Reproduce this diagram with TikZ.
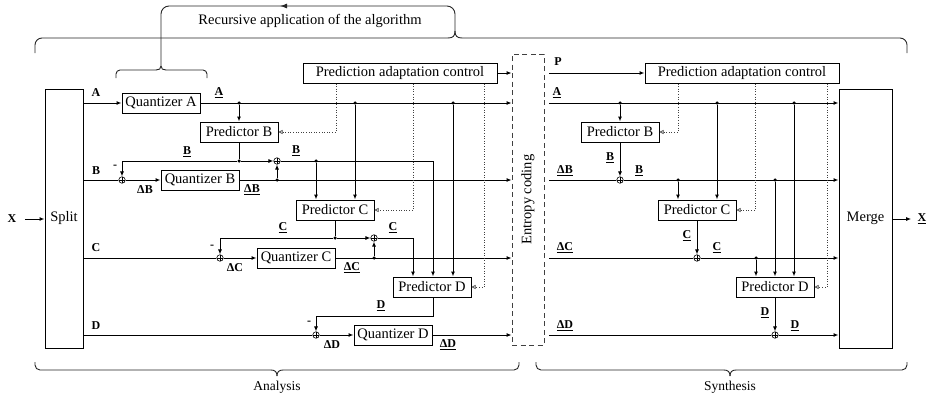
\documentclass[tikz,border=0pt]{standalone}
\usepackage{fontspec}
\setmainfont{Liberation Serif}
\usetikzlibrary{arrows.meta,calc}
\begin{document}
\begin{tikzpicture}[x=1pt,y=-1pt,line width=1pt,
  box/.style={draw, fill=white, minimum width=78pt, minimum height=20pt, inner sep=0pt, font=\fontsize{14.5}{16}\selectfont},
  lbl/.style={font=\fontsize{12}{13}\selectfont\bfseries, inner sep=0pt},
  txt/.style={font=\fontsize{14.5}{16}\selectfont, inner sep=0pt},
  arr/.style={-{Latex[length=5pt,width=4pt]}},
  ctl/.style={dotted, line width=0.6pt, black!75, -{Triangle[open,length=4pt,width=4pt]}},
  dot/.style={circle, fill, inner sep=0pt, minimum size=3.5pt},
  sumn/.style={circle, draw, fill=white, line width=0.6pt, inner sep=0pt, minimum size=6.5pt,
    path picture={\draw[line width=0.6pt] (path picture bounding box.north) -- (path picture bounding box.south)
      (path picture bounding box.west) -- (path picture bounding box.east);}},
  brc/.style={line width=0.9pt, black!85}]
\useasboundingbox (0,0) rectangle (933,399);

% ---------- boxes ----------
\node[box, minimum width=38pt, minimum height=259pt] (split) at (64,218.5) {Split};
\node[box] (qa) at (161,103) {Quantizer A};
\node[box] (pbL) at (239,132) {Predictor B};
\node[box] (qb) at (200,180) {Quantizer B};
\node[box] (pcL) at (335,210) {Predictor C};
\node[box] (qc) at (296,258) {Quantizer C};
\node[box] (pdL) at (432,287) {Predictor D};
\node[box] (qd) at (393,335) {Quantizer D};
\node[box, minimum width=194pt] (pacL) at (400,73) {Prediction adaptation control};
\node[draw, black!75, line width=0.8pt, dash pattern=on 5pt off 3.5pt, minimum width=32pt, minimum height=291pt, inner sep=0pt] (ent) at (528,199.5) {};
\node[txt, rotate=90] (entl) at (ent.center) {Entropy coding};

\node[box, minimum width=194pt] (pacR) at (742,73) {Prediction adaptation control};
\node[box] (pbR) at (620,132) {Predictor B};
\node[box] (pcR) at (697,210) {Predictor C};
\node[box] (pdR) at (775,287) {Predictor D};
\node[box, minimum width=53pt, minimum height=259pt] (merge) at (865.5,218.5) {Merge};

% ---------- sums ----------
\node[sumn] (sB1) at (122,180) {};
\node[sumn] (sB2) at (277,161) {};
\node[sumn] (sC1) at (220,258) {};
\node[sumn] (sC2) at (374,238) {};
\node[sumn] (sD) at (316,335) {};
\node[sumn] (sRB) at (620,180) {};
\node[sumn] (sRC) at (697,258) {};
\node[sumn] (sRD) at (775,335) {};

% ---------- dots ----------
\node[dot] (dA1) at (239,103) {};
\node[dot] (dA2) at (355,103) {};
\node[dot] (dA3) at (453,103) {};
\node[dot] (dBp) at (239,161) {};
\node[dot] (dBq) at (277,180) {};
\node[dot] (dBr) at (316,161) {};
\node[dot] (dCp) at (335,238) {};
\node[dot] (dCq) at (374,258) {};
\node[dot] (rA1) at (620,103) {};
\node[dot] (rA2) at (717,103) {};
\node[dot] (rA3) at (794,103) {};
\node[dot] (rB1) at (678,180) {};
\node[dot] (rB2) at (775,180) {};
\node[dot] (rC1) at (756,258) {};

\coordinate (rs) at (549,0);
\coordinate (dfb) at (433,316);
\coordinate (k1) at (336,0);
\coordinate (k2) at (413,0);
\coordinate (k3) at (484,0);
\coordinate (m1) at (678,0);
\coordinate (m2) at (755,0);
\coordinate (m3) at (827,0);

% ---------- X in / out ----------
\node[lbl] (xin) at (12,219) {X};
\draw[arr] ([xshift=8pt]xin.east) -- (split.west |- xin);
\node[lbl] (xout) at (922,219) {\underline{X}};
\draw[arr] (merge.east |- xout) -- ([xshift=-6pt]xout.west);

% ---------- analysis: A ----------
\draw[arr] (split.east |- qa) -- (qa.west);
\draw[arr] (qa.east) -- (qa -| ent.west);
\draw[arr] (dA1) -- (pbL.north);
\draw[arr] (dA2) -- (dA2 |- pcL.north);
\draw[arr] (dA3) -- (dA3 |- pdL.north);

% ---------- analysis: B ----------
\draw (split.east |- sB1) -- (sB1);
\draw[arr] (sB1) -- (qb.west);
\draw[arr] (qb.east) -- (qb -| ent.west);
\draw[arr] (dBq) -- (sB2);
\draw (pbL.south) -- (dBp);
\draw[arr] (dBp) -- (sB2);
\draw[arr] (dBp) -- (sB1 |- dBp) -- (sB1);
\draw[arr] (sB2) -| ([xshift=1pt]pdL.north);
\draw[arr] (dBr) -- (dBr |- pcL.north);

% ---------- analysis: C ----------
\draw (split.east |- sC1) -- (sC1);
\draw[arr] (sC1) -- (qc.west);
\draw[arr] (qc.east) -- (qc -| ent.west);
\draw[arr] (dCq) -- (sC2);
\draw (pcL.south) -- (dCp);
\draw[arr] (dCp) -- (sC2);
\draw[arr] (dCp) -- (sC1 |- dCp) -- (sC1);
\draw[arr] (sC2) -| ([xshift=-19pt]pdL.north);

% ---------- analysis: D ----------
\draw (split.east |- sD) -- (sD);
\draw[arr] (sD) -- (qd.west);
\draw[arr] (qd.east) -- (qd -| ent.west);
\draw[arr] (pdL.south -| dfb) -- (dfb) -| (sD);

% ---------- analysis: control ----------
\draw[arr] (pacL.east) -- (pacL -| ent.west);
\draw[ctl] (pacL.south -| k1) |- (pbL.east);
\draw[ctl] (pacL.south -| k2) |- (pcL.east);
\draw[ctl] (pacL.south -| k3) |- (pdL.east);

% ---------- synthesis ----------
\draw[arr] (rs |- pacR) -- (pacR.west);
\draw[arr] (rs |- qa) -- (merge.west |- qa);
\draw[arr] (rA1) -- (pbR.north);
\draw[arr] (rA2) -- (rA2 |- pcR.north);
\draw[arr] (rA3) -- (rA3 |- pdR.north);

\draw (rs |- sRB) -- (sRB);
\draw[arr] (sRB) -- (merge.west |- sRB);
\draw[arr] (pbR.south) -- (sRB);
\draw[arr] (rB1) -- (rB1 |- pcR.north);
\draw[arr] (rB2) -- (pdR.north);

\draw (rs |- sRC) -- (sRC);
\draw[arr] (sRC) -- (merge.west |- sRC);
\draw[arr] (pcR.south) -- (sRC);
\draw[arr] (rC1) -- (rC1 |- pdR.north);

\draw (rs |- sRD) -- (sRD);
\draw[arr] (sRD) -- (merge.west |- sRD);
\draw[arr] (pdR.south) -- (sRD);

\draw[ctl] (pacR.south -| m1) |- (pbR.east);
\draw[ctl] (pacR.south -| m2) |- (pcR.east);
\draw[ctl] (pacR.south -| m3) |- (pdR.east);

% ---------- labels ----------
\node[lbl] at (96,93) {A};
\node[lbl] at (219,93) {\underline{A}};
\node[lbl] at (96,171) {B};
\node[lbl] at (115,167) {-};
\node[lbl] at (187,152) {\underline{B}};
\node[lbl] at (145,190) {ΔB};
\node[lbl] at (252,190) {\underline{ΔB}};
\node[lbl] at (296,151) {\underline{B}};
\node[lbl] at (96,248) {C};
\node[lbl] at (212,247) {-};
\node[lbl] at (283,228) {\underline{C}};
\node[lbl] at (235,268) {ΔC};
\node[lbl] at (352,268) {\underline{ΔC}};
\node[lbl] at (393,228) {\underline{C}};
\node[lbl] at (96,326) {D};
\node[lbl] at (309,323) {-};
\node[lbl] at (381,306) {\underline{D}};
\node[lbl] at (332,345) {ΔD};
\node[lbl] at (448,345) {\underline{ΔD}};

\node[lbl] at (558,62) {P};
\node[lbl] at (557,93) {\underline{A}};
\node[lbl] at (565,171) {\underline{ΔB}};
\node[lbl] at (610,158) {\underline{B}};
\node[lbl] at (639,171) {\underline{B}};
\node[lbl] at (565,248) {\underline{ΔC}};
\node[lbl] at (687,236) {\underline{C}};
\node[lbl] at (717,248) {\underline{C}};
\node[lbl] at (565,326) {\underline{ΔD}};
\node[lbl] at (765,313) {\underline{D}};
\node[lbl] at (795,326) {\underline{D}};

% ---------- braces & loop ----------
\draw[brc, rounded corners=7pt] (35,53) -- (35,38) -- (448,38);
\draw[brc] (448,38) .. controls (453,38) and (455,36) .. (455,31);
\draw[brc] (455,31) .. controls (455,36) and (457,38) .. (462,38);
\draw[brc, rounded corners=7pt] (462,38) -- (907,38) -- (907,53);

\draw[brc, rounded corners=8pt, -{Latex[length=7pt,width=5pt]}] (455,31) -- (455,6) -- (280,6);
\draw[brc, rounded corners=8pt] (282,6) -- (161,6) -- (161,66);
\node[txt] (rec) at (310,21) {Recursive application of the algorithm};

\draw[brc, rounded corners=4pt] (116,78) -- (116,70) -- (156,70);
\draw[brc] (156,70) .. controls (159,70) and (161,69) .. (161,66);
\draw[brc] (161,66) .. controls (161,69) and (163,70) .. (166,70);
\draw[brc, rounded corners=4pt] (166,70) -- (207,70) -- (207,78);

\draw[brc, rounded corners=5pt] (35,362) -- (35,370) -- (271,370);
\draw[brc] (271,370) .. controls (275,370) and (277,372) .. (277,376);
\draw[brc] (277,376) .. controls (277,372) and (279,370) .. (283,370);
\draw[brc, rounded corners=5pt] (283,370) -- (519,370) -- (519,362);
\node[txt, font=\fontsize{13.5}{15}\selectfont] (ana) at (277,387) {Analysis};

\draw[brc, rounded corners=5pt] (536,362) -- (536,370) -- (724,370);
\draw[brc] (724,370) .. controls (728,370) and (730,372) .. (730,376);
\draw[brc] (730,376) .. controls (730,372) and (732,370) .. (736,370);
\draw[brc, rounded corners=5pt] (736,370) -- (907,370) -- (907,362);
\node[txt, font=\fontsize{13.5}{15}\selectfont] (syn) at (730,387) {Synthesis};
\end{tikzpicture}
\end{document}
